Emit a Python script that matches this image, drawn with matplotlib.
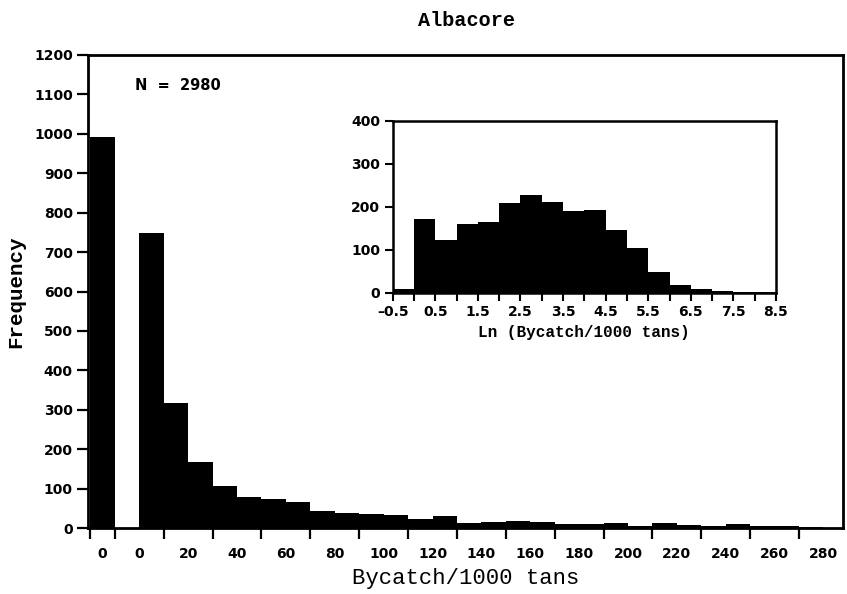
import matplotlib
matplotlib.use("Agg")
import matplotlib.pyplot as plt
import numpy as np

# ---- data ----
zero_count = 992  # bycatch == 0
bin_left = list(range(0, 290, 10))
counts = [748, 316, 168, 107, 78, 74, 65, 42, 38, 35, 32, 24, 30, 12, 14,
          17, 14, 11, 9, 12, 5, 12, 8, 6, 11, 5, 4, 2, 1]
x_tick_vals = list(range(0, 300, 20))
y_tick_vals = list(range(0, 1300, 100))

ln_left = [-0.5, 0.0, 0.5, 1.0, 1.5, 2.0, 2.5, 3.0, 3.5, 4.0, 4.5, 5.0,
           5.5, 6.0, 6.5, 7.0, 7.5, 8.0]
ln_counts = [8, 171, 122, 160, 164, 209, 227, 211, 190, 192, 146, 103,
             47, 18, 8, 3, 1.5, 1]
ln_tick_vals = [-0.5, 0.5, 1.5, 2.5, 3.5, 4.5, 5.5, 6.5, 7.5, 8.5]
ln_y_ticks = [0, 100, 200, 300, 400]

W, H = 847, 594
fig = plt.figure(figsize=(W / 100, H / 100), dpi=100)

tickfont = dict(family="DejaVu Sans", weight="bold", size=10)
mono = "Liberation Mono"

# ---- main axes ----
ax = fig.add_axes([88 / W, 1 - 528 / H, (843 - 88) / W, (528 - 55) / H])
ax.bar([-20], [zero_count], width=10, align="edge", color="black", lw=0)
ax.bar(bin_left, counts, width=10, align="edge", color="black", lw=0)
ax.set_xlim(-21, 288)
ax.set_ylim(0, 1200)
for s in ax.spines.values():
    s.set_linewidth(2)

ax.set_yticks(y_tick_vals)
ax.set_yticklabels([str(v) for v in y_tick_vals], **tickfont)
ax.tick_params(axis="y", direction="out", length=8, width=1.6, pad=3)

ax.set_xticks([-15] + x_tick_vals)
ax.set_xticklabels(["0"] + [str(v) for v in x_tick_vals], **tickfont)
ax.set_xticks(list(range(-20, 290, 10)), minor=True)
ax.tick_params(axis="x", which="major", length=0, pad=14)
ax.tick_params(axis="x", which="minor", direction="out", length=8, width=1.6)

ax.set_ylabel("Frequency", family=mono, weight="bold", size=15, labelpad=6)
ax.set_xlabel("Bycatch/1000 tans", family=mono, size=16, labelpad=5)
fig.text(466 / W, 1 - 21 / H, "Albacore", family=mono, weight="bold",
         size=14.5, ha="center", va="center")
ax.text(-1.6, 1122, "N  =  2980", ha="left", va="center",
        family="DejaVu Sans", weight="bold", size=10.5)

# ---- inset ----
ins = fig.add_axes([392.7 / W, 1 - 292.7 / H, (776 - 392.7) / W,
                    (292.7 - 120.7) / H])
ins.bar(ln_left, ln_counts, width=0.5, align="edge", color="black", lw=0)
ins.set_xlim(-0.5, 8.5)
ins.set_ylim(0, 400)
for s in ins.spines.values():
    s.set_linewidth(1.8)
ins.set_yticks(ln_y_ticks)
ins.set_yticklabels([str(v) for v in ln_y_ticks], **tickfont)
ins.set_xticks(ln_tick_vals)
ins.set_xticklabels([f"{v:.1f}".replace("-", "\u2013") for v in ln_tick_vals],
                    **tickfont)
ins.set_xticks(list(np.arange(0.0, 8.5, 1.0)), minor=True)
ins.tick_params(axis="both", which="both", direction="out", length=6,
                width=1.5, pad=3)
ins.set_xlabel("Ln (Bycatch/1000 tans)", family=mono, weight="bold",
               size=11.5, labelpad=4)

fig.savefig("out.png", dpi=100)
